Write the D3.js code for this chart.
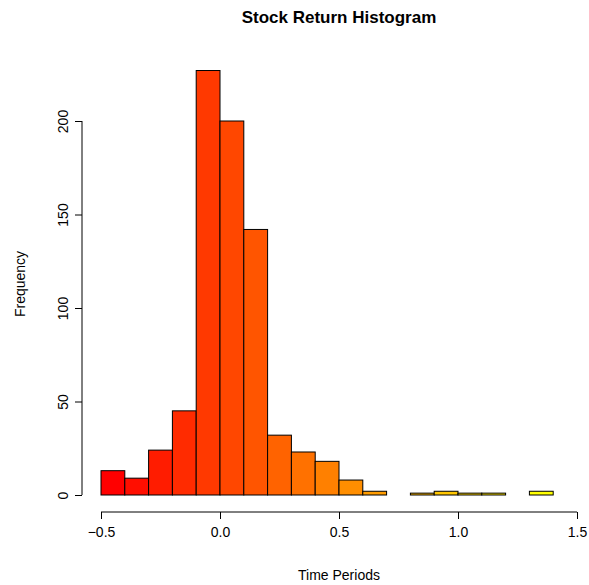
<!DOCTYPE html>
<html><head><meta charset="utf-8">
<script src="https://cdn.jsdelivr.net/npm/d3@7"></script>
<style>body{margin:0;background:#fff}svg{display:block}text{font-family:"Liberation Sans",Arial,Helvetica,sans-serif}</style>
</head><body>
<script>
const binStarts = [-0.5,-0.4,-0.3,-0.2,-0.1,0.0,0.1,0.2,0.3,0.4,0.5,0.6,0.7,0.8,0.9,1.0,1.1,1.2,1.3];
const binWidth = 0.1;
const counts = [13,9,24,45,227,200,142,32,23,18,8,2,0,1,2,1,1,0,2];
const xTicks = [-0.5,0.0,0.5,1.0,1.5];
const xTickLabels = ["\u22120.5","0.0","0.5","1.0","1.5"];
const yTicks = [0,50,100,150,200];
const title = "Stock Return Histogram";
const xLabel = "Time Periods";
const yLabel = "Frequency";

const W = 589, H = 585;
const svg = d3.select("body").append("svg").attr("width", W).attr("height", H);
const x = d3.scaleLinear().domain([-0.5, 1.5]).range([101, 577]);
const y = d3.scaleLinear().domain([0, 200]).range([495, 121]);
const n = counts.length;
const colors = counts.map((_, i) => d3.rgb(255, Math.round(255 * i / (n - 1)), 0).toString());

svg.append("g").selectAll("rect").data(counts).join("rect")
  .attr("x", (d, i) => x(binStarts[i]))
  .attr("width", (d, i) => x(binStarts[i] + binWidth) - x(binStarts[i]))
  .attr("y", d => y(d))
  .attr("height", d => y(0) - y(d))
  .attr("fill", (d, i) => colors[i])
  .attr("stroke", "#000").attr("stroke-width", 1);

// x axis
const xa = svg.append("g").attr("transform", "translate(0,512)")
  .call(d3.axisBottom(x).tickValues(xTicks).tickFormat((d, i) => xTickLabels[i]).tickSize(7).tickPadding(8).tickSizeOuter(0));
xa.select(".domain").attr("d", `M${x(-0.5)},0H${x(1.5)}`);
xa.selectAll("text").attr("font-size", 14).attr("fill", "#000");
xa.selectAll("line,path").attr("stroke", "#000");

// y axis
const ya = svg.append("g").attr("transform", "translate(82,0)")
  .call(d3.axisLeft(y).tickValues(yTicks).tickSize(7).tickSizeOuter(0));
ya.select(".domain").attr("d", `M0,${y(0)}V${y(200)}`);
ya.selectAll("line,path").attr("stroke", "#000");
ya.selectAll(".tick text").attr("font-size", 14).attr("fill", "#000")
  .attr("transform", "translate(-19,0) rotate(-90)")
  .attr("x", 0).attr("y", 0).attr("dy", "0.35em").attr("text-anchor", "middle");

svg.append("text").attr("x", 339).attr("y", 23).attr("text-anchor", "middle")
  .attr("font-size", 17).attr("font-weight", "bold").text(title);
svg.append("text").attr("x", 339).attr("y", 580).attr("text-anchor", "middle")
  .attr("font-size", 14).text(xLabel);
svg.append("text").attr("transform", "translate(25,284) rotate(-90)").attr("text-anchor", "middle")
  .attr("font-size", 14).text(yLabel);
</script>
</body></html>
